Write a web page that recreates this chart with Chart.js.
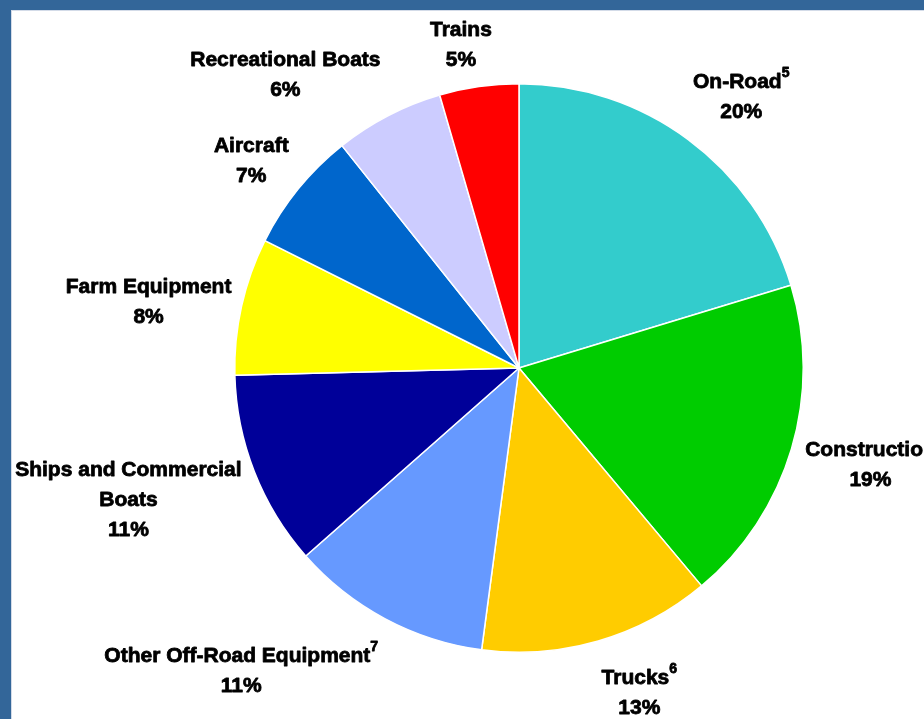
<!DOCTYPE html>
<html>
<head>
<meta charset="utf-8">
<script src="https://cdn.jsdelivr.net/npm/chart.js@4"></script>
<style>
  html, body { margin: 0; padding: 0; }
  body { width: 924px; height: 719px; background: #336699; position: relative; overflow: hidden; }
  #panel { position: absolute; left: 11px; top: 10px; width: 913px; height: 709px; background: #fff;
           border-top: 1px solid #d3dbe8; border-left: 1px solid #d3dbe8; box-sizing: border-box; }
  canvas { position: absolute; left: 0; top: 0; }
</style>
</head>
<body>
<div id="panel"><canvas id="myChart" width="912" height="708"></canvas></div>
<script>
const categories = ['On-Road', 'Construction', 'Trucks', 'Other Off-Road Equipment',
  ['Ships and Commercial', 'Boats'], 'Farm Equipment', 'Aircraft', 'Recreational Boats', 'Trains'];
const footnotes = ['5', '', '6', '7', '', '', '', '', ''];
const shares = [20.3, 18.6, 13.2, 11.4, 11.1, 7.8, 6.9, 6.2, 4.5];
const sliceColors = ['#33CCCC', '#00CC00', '#FFCC00', '#6699FF', '#000099', '#FFFF00', '#0066CC', '#CCCCFF', '#FF0000'];

// label block centre, relative to the middle of each slice's rim
const labelOffsets = [[53, -42], [79, 16], [41, 52], [-144, 52], [-126, 28], [-93, -4], [-47, -28], [-103, -40], [-18, -41]];

const sliceLabels = {
    id: 'sliceLabels',
    afterDatasetsDraw(chart) {
        const ctx = chart.ctx;
        const meta = chart.getDatasetMeta(0);
        const values = chart.data.datasets[0].data;
        const big = 'bold 21px "Liberation Sans", Arial, sans-serif';
        const small = 'bold 14px "Liberation Sans", Arial, sans-serif';
        ctx.save();
        ctx.fillStyle = '#000';
        ctx.strokeStyle = '#000';
        ctx.lineWidth = 0.8;
        ctx.lineJoin = 'round';
        ctx.textBaseline = 'middle';
        ctx.textAlign = 'left';
        meta.data.forEach((arc, i) => {
            const p = arc.getProps(['x', 'y', 'startAngle', 'endAngle', 'outerRadius'], true);
            const mid = (p.startAngle + p.endAngle) / 2;
            const cx = p.x + Math.cos(mid) * p.outerRadius + labelOffsets[i][0];
            const cy = p.y + Math.sin(mid) * p.outerRadius + labelOffsets[i][1];
            const lines = [].concat(chart.data.labels[i], Math.round(values[i]) + '%');
            const lh = 30;
            let y = cy - (lines.length - 1) * lh / 2;
            lines.forEach((t, j) => {
                ctx.font = big;
                const w = ctx.measureText(t).width;
                const sup = j === lines.length - 2 ? footnotes[i] : '';
                let sw = 0;
                if (sup) {
                    ctx.font = small;
                    sw = ctx.measureText(sup).width;
                }
                const x0 = cx - (w + sw) / 2;
                ctx.font = big;
                ctx.fillText(t, x0, y);
                ctx.strokeText(t, x0, y);
                if (sup) {
                    ctx.font = small;
                    ctx.fillText(sup, x0 + w, y - 9);
                    ctx.strokeText(sup, x0 + w, y - 9);
                }
                y += lh;
            });
        });
        ctx.restore();
    }
};

const ctx = document.getElementById('myChart').getContext('2d');
const myChart = new Chart(ctx, {
    type: 'pie',
    data: {
        labels: categories,
        datasets: [{
            data: shares,
            backgroundColor: sliceColors,
            borderColor: '#ffffff',
            borderWidth: 1.5
        }]
    },
    options: {
        responsive: false,
        animation: false,
        layout: { padding: { left: 222, top: 72, right: 120, bottom: 66 } },
        plugins: {
            legend: { display: false },
            tooltip: { enabled: false }
        }
    },
    plugins: [sliceLabels]
});
</script>
</body>
</html>
